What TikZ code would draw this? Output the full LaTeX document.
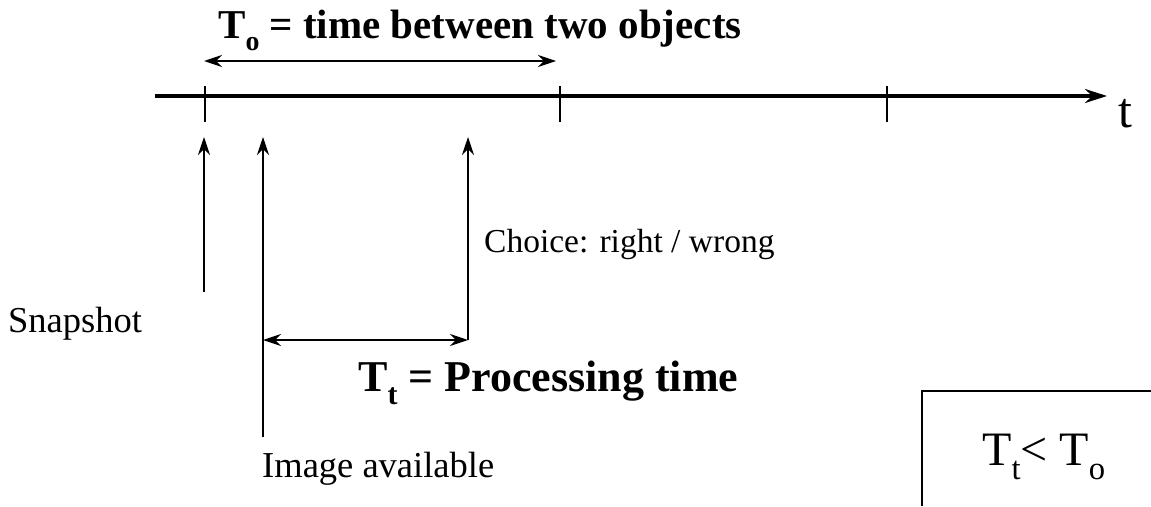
\documentclass[tikz,border=0pt]{standalone}
\usepackage{fontspec}
\usepackage{graphicx}
\setmainfont{Liberation Serif}
\usetikzlibrary{arrows.meta,positioning}
\newcommand{\lowsub}[1]{\raisebox{-0.3em}{\scalebox{0.68}{#1}}}

\begin{document}
\begin{tikzpicture}[x=1pt, y=-1pt,
  axis/.style={-{Stealth[length=22pt, width=14pt]}, line width=3.2pt},
  tickmark/.style={line width=1.5pt},
  up/.style={-{Stealth[length=18pt, width=12pt]}, line width=1.6pt},
  span/.style={{Stealth[length=18pt, width=12pt]}-{Stealth[length=18pt, width=12pt]}, line width=1.6pt},
  lbl/.style={font=\fontsize{36.5}{40}\selectfont, inner sep=0pt, anchor=base west},
  head/.style={font=\fontsize{42}{46}\selectfont\bfseries, inner sep=0pt, anchor=base west}]

  \useasboundingbox (0,0) rectangle (1151,506);

  % time axis with ticks
  \coordinate (start) at (155,96);
  \coordinate (end) at (1107,96);
  \draw[axis] (start) -- (end);
  \node[font=\fontsize{50}{54}\selectfont, inner sep=0pt, anchor=base west] (tlabel) at (1118,127) {t};
  \foreach \x/\name in {205/tick1, 560/tick2, 887/tick3} {
    \coordinate (\name top) at (\x,86);
    \coordinate (\name bot) at (\x,122);
    \draw[tickmark] (\name top) -- (\name bot);
  }

  % T_o span
  \coordinate (objL) at (204,61);
  \coordinate (objR) at (556,61);
  \draw[span] (objL) -- (objR);
  \node[head, font=\fontsize{41}{46}\selectfont\bfseries] (tobj) at (218,38) {T\lowsub{o} = time between two objects};

  % events
  \coordinate (snapBot) at (204,292);
  \coordinate (snapTop) at (204,137);
  \coordinate (imgBot) at (263,437);
  \coordinate (imgTop) at (263,137);
  \coordinate (choiceBot) at (468,340);
  \coordinate (choiceTop) at (468,137);
  \draw[up] (snapBot) -- (snapTop);
  \draw[up] (imgBot) -- (imgTop);
  \draw[up] (choiceBot) -- (choiceTop);
  \node[lbl] (snap) at (8,332) {Snapshot};
  \node[lbl] (img) at (262,477) {Image available};
  \node[lbl, font=\fontsize{33.5}{38}\selectfont] (choice) at (484,252) {Choice: right / wrong};

  % T_t span
  \coordinate (procL) at (263,340);
  \coordinate (procR) at (468,340);
  \draw[span] (procL) -- (procR);
  \node[head, font=\fontsize{44}{48}\selectfont\bfseries] (tproc) at (358,391) {T\lowsub{t} = Processing time};

  % condition box
  \draw[line width=1.5pt] (922,506) -- (922,391) -- (1151,391);
  \node[font=\fontsize{48}{52}\selectfont, inner sep=0pt, anchor=base west] (cond) at (982,465) {T\lowsub{t}< T\lowsub{o}};
\end{tikzpicture}
\end{document}
